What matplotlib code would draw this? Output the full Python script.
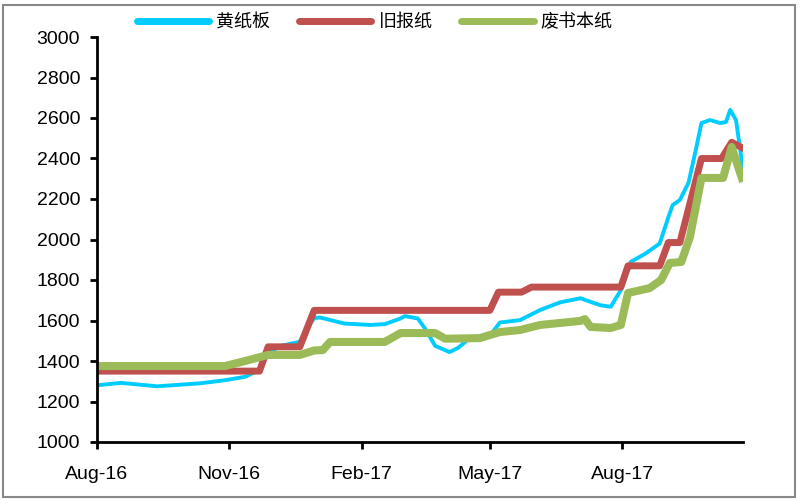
import pandas as pd
import matplotlib.pyplot as plt
import matplotlib.dates as mdates
from matplotlib.patches import Rectangle

plt.rcParams['font.family'] = ['Liberation Sans', 'Noto Sans CJK SC', 'DejaVu Sans']

# 黄纸板
yellow_dates = ['2016-08-01', '2016-08-18', '2016-09-12', '2016-10-12', '2016-10-29',
                '2016-11-12', '2016-11-22', '2016-11-28', '2016-12-07', '2016-12-20',
                '2016-12-25', '2016-12-30', '2017-01-03', '2017-01-20', '2017-02-07',
                '2017-02-17', '2017-02-28', '2017-03-03', '2017-03-12', '2017-03-17',
                '2017-03-24', '2017-04-03', '2017-04-09', '2017-04-17', '2017-04-24',
                '2017-05-01', '2017-05-08', '2017-05-22', '2017-06-05', '2017-06-19',
                '2017-07-03', '2017-07-10', '2017-07-17', '2017-07-24', '2017-07-31',
                '2017-08-07', '2017-08-17', '2017-08-27', '2017-09-02', '2017-09-05',
                '2017-09-10', '2017-09-16', '2017-09-21', '2017-09-25', '2017-10-01',
                '2017-10-08', '2017-10-12', '2017-10-15', '2017-10-19', '2017-10-22',
                '2017-10-24']
yellow_vals = [1280, 1292, 1275, 1290, 1305, 1322, 1356, 1440, 1475, 1495,
               1560, 1612, 1615, 1585, 1578, 1582, 1610, 1622, 1610, 1560,
               1475, 1444, 1465, 1513, 1520, 1525, 1590, 1602, 1652, 1690,
               1710, 1692, 1675, 1668, 1750, 1890, 1930, 1980, 2110, 2170,
               2195, 2280, 2440, 2575, 2590, 2575, 2580, 2640, 2590, 2440,
               2340]

# 旧报纸
news_dates = ['2016-08-01', '2016-11-22', '2016-11-28', '2016-12-20', '2016-12-30',
              '2017-05-01', '2017-05-07', '2017-05-23', '2017-05-30', '2017-07-31',
              '2017-08-05', '2017-08-27', '2017-09-02', '2017-09-10', '2017-09-25',
              '2017-10-09', '2017-10-16', '2017-10-24']
news_vals = [1350, 1350, 1470, 1470, 1650, 1650, 1740, 1740, 1765, 1765,
             1870, 1870, 1985, 1985, 2400, 2400, 2480, 2450]

# 废书本纸
book_dates = ['2016-08-01', '2016-10-29', '2016-11-12', '2016-11-28', '2016-12-20',
              '2016-12-30', '2017-01-05', '2017-01-10', '2017-02-17', '2017-02-28',
              '2017-03-24', '2017-03-31', '2017-04-24', '2017-05-08', '2017-05-22',
              '2017-06-05', '2017-06-19', '2017-07-03', '2017-07-06', '2017-07-10',
              '2017-07-24', '2017-07-31', '2017-08-05', '2017-08-20', '2017-08-28',
              '2017-09-03', '2017-09-11', '2017-09-17', '2017-09-25', '2017-10-10',
              '2017-10-16', '2017-10-23']
book_vals = [1375, 1375, 1400, 1430, 1430, 1452, 1454, 1494, 1494, 1538,
             1538, 1510, 1513, 1543, 1553, 1578, 1588, 1598, 1607, 1568,
             1563, 1578, 1736, 1760, 1800, 1884, 1889, 2012, 2304, 2304,
             2457, 2304]

labels = ['黄纸板', '旧报纸', '废书本纸']
colors = ['#00CCFF', '#C0504D', '#9BBB59']
tick_dates = ['2016-08-01', '2016-11-01', '2017-02-01', '2017-05-01', '2017-08-01']

fig = plt.figure(figsize=(8, 5), dpi=100)
ax = fig.add_axes([0.121, 0.116, 0.808, 0.81])

ax.plot(pd.to_datetime(yellow_dates), yellow_vals, color=colors[0], lw=2.8,
        solid_joinstyle='round', label=labels[0])
ax.plot(pd.to_datetime(news_dates), news_vals, color=colors[1], lw=5,
        solid_joinstyle='round', label=labels[1])
ax.plot(pd.to_datetime(book_dates), book_vals, color=colors[2], lw=5.8,
        solid_joinstyle='round', label=labels[2])

ax.set_xlim(pd.Timestamp('2016-08-01'), pd.Timestamp('2017-10-24'))
ax.set_ylim(1000, 3000)
ax.set_yticks(range(1000, 3001, 200))
ax.set_xticks(pd.to_datetime(tick_dates))
ax.xaxis.set_major_formatter(mdates.DateFormatter('%b-%y'))

for s in ['top', 'right']:
    ax.spines[s].set_visible(False)
for s in ['left', 'bottom']:
    ax.spines[s].set_linewidth(2)
ax.tick_params(axis='both', direction='out', length=5, width=2, labelsize=14)
ax.tick_params(axis='x', pad=12)
ax.tick_params(axis='y', pad=7)

leg = ax.legend(loc='lower center', bbox_to_anchor=(0.43, 0.975), ncol=3,
                frameon=False, handlelength=4.0, columnspacing=1.6,
                handletextpad=0.4, prop={'family': ['Noto Sans CJK SC'], 'size': 13})
for h in leg.get_lines():
    h.set_linewidth(5)
    h.set_solid_capstyle('round')

fig.patches.append(Rectangle((0.004, 0.006), 0.99, 0.984, transform=fig.transFigure,
                             fill=False, edgecolor='#888888', lw=1.5))

fig.savefig('out.png', dpi=100)
